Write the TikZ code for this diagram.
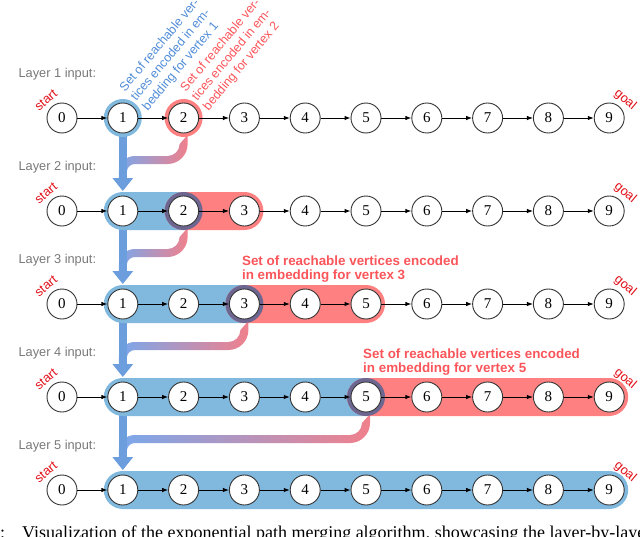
\documentclass[tikz,border=0pt]{standalone}
\usepackage{fontspec}
\setmainfont{Liberation Serif}
\setsansfont{Liberation Sans}
\usetikzlibrary{arrows.meta}
\usetikzlibrary{calc}
\usetikzlibrary{backgrounds}
\definecolor{pillblue}{RGB}{128,184,222}
\definecolor{pillred}{RGB}{255,128,128}
\definecolor{ringdark}{RGB}{108,102,145}
\definecolor{shaftblue}{RGB}{108,158,222}
\definecolor{mergeblue}{RGB}{122,168,236}
\definecolor{mergered}{RGB}{240,128,140}
\definecolor{annoblue}{RGB}{80,140,215}
\definecolor{annored}{RGB}{250,85,90}
\definecolor{endred}{RGB}{225,15,25}
\definecolor{labelgray}{RGB}{120,120,120}
\def\xsep{60.8pt}
\def\ysep{93pt}
\newcommand\reachpill[3]{\fill[#1,rounded corners=19pt] ($(#2)+(-19pt,-19pt)$) rectangle ($(#3)+(19pt,19pt)$);}
\newcommand\mergecurve[2]{%
  \shade[merge] let \p1=(#1), \p2=(#2) in
    (\x1+4pt,\y1-17pt) -- (\x1+4pt,\y1-26pt) arc[start angle=0,end angle=-90,radius=20pt]
    -- (\x2+12pt,\y1-46pt) arc[start angle=90,end angle=180,radius=8pt]
    -- (\x2+4pt,\y2+30pt) -- (\x2-4pt,\y2+30pt) -- (\x2-4pt,\y1-54pt)
    arc[start angle=180,end angle=90,radius=16pt]
    -- (\x1-16pt,\y1-38pt) arc[start angle=-90,end angle=0,radius=12pt] -- cycle;}

\begin{document}
\begin{tikzpicture}[
    vertex/.style={
      circle,draw=black!80,line width=0.9pt,fill=white,
      minimum size=30pt,inner sep=0pt,
      font=\fontsize{15}{18}\selectfont
    },
    edge/.style={
      -{Latex[length=6pt,width=4.5pt]},line width=0.9pt
    },
    layerlabel/.style={
      anchor=base west,text=labelgray,
      font=\sffamily\fontsize{12.8}{15}\selectfont
    },
    endlabel/.style={
      text=endred,inner sep=0pt,
      font=\sffamily\fontsize{12.8}{15}\selectfont
    },
    slanted/.style={
      rotate=50,anchor=south west,align=left,inner sep=0pt,
      font=\sffamily\fontsize{12.5}{14.8}\selectfont
    },
    vertexnote/.style={
      anchor=south west,align=left,inner sep=0pt,text=annored,
      font=\sffamily\bfseries\fontsize{13.4}{13.8}\selectfont
    },
    caption/.style={
      anchor=base west,inner sep=0pt,
      font=\fontsize{18}{21}\selectfont
    },
    shaft/.style={
      draw=shaftblue,line width=8pt,-{Triangle[width=20pt,length=13pt]}
    },
    merge/.style={
      left color=mergeblue,right color=mergered
    }
  ]
    \useasboundingbox (-62pt,118pt) rectangle (578pt,-418pt);
    \clip (-62pt,118pt) rectangle (578pt,-418pt);

    % layers
    \foreach \r in {1,...,5} {
      \foreach \i in {0,...,9}
        \node[vertex] (v\r-\i) at ({\i*\xsep},{(1-\r)*\ysep}) {\i};
      \foreach \i [count=\j from 1] in {0,...,8}
        \draw[edge] (v\r-\i) -- (v\r-\j);
      \node[layerlabel] (layer\r) at ($(v\r-0)+(-47pt,41pt)$) {Layer \r\ input:};
      \node[endlabel,rotate=40]  (start\r) at ($(v\r-0)+(-16pt,18pt)$) {start};
      \node[endlabel,rotate=-40] (goal\r)  at ($(v\r-9)+(16pt,18pt)$)  {goal};
    }

    % notes
    \node[slanted,text=annoblue] (note1) at ($(v1-1)+(27pt,5pt)$) {Set of reachable ver-\\tices encoded in em-\\bedding for vertex 1};
    \node[slanted,text=annored]  (note2) at ($(v1-2)+(27pt,5pt)$) {Set of reachable ver-\\tices encoded in em-\\bedding for vertex 2};
    \node[vertexnote] (note3) at ($(v3-3)+(-2.5pt,21.6pt)$) {Set of reachable vertices encoded\\in embedding for vertex 3};
    \node[vertexnote] (note5) at ($(v4-5)+(-3pt,21.8pt)$)   {Set of reachable vertices encoded\\in embedding for vertex 5};

    \node[caption] (caption) at ($(v5-0)+(-122.5pt,-48pt)$) {Figure 4:\hskip 17pt Visualization of the exponential path merging algorithm, showcasing the layer-by-layer};

    \begin{pgfonlayer}{background}
      % merging
      \mergecurve{v1-2}{v2-1}
      \mergecurve{v2-2}{v3-1}
      \mergecurve{v3-3}{v4-1}
      \mergecurve{v4-5}{v5-1}
      \foreach \r [count=\s from 2] in {1,...,4}
        \draw[shaft] ($(v\r-1)+(0,-17pt)$) -- ($(v\s-1)+(0,20pt)$);

      % reachable sets
      \fill[pillblue] (v1-1) circle (19pt);
      \fill[pillred]  (v1-2) circle (19pt);
      \reachpill{pillblue}{v2-1}{v2-2}
      \reachpill{pillred}{v2-2}{v2-3}
      \reachpill{pillblue}{v3-1}{v3-3}
      \reachpill{pillred}{v3-3}{v3-5}
      \reachpill{pillblue}{v4-1}{v4-5}
      \reachpill{pillred}{v4-5}{v4-9}
      \reachpill{pillblue}{v5-1}{v5-9}
      \foreach \v in {v2-2,v3-3,v4-5}
        \fill[ringdark] (\v) circle (19pt);
    \end{pgfonlayer}
  \end{tikzpicture}
\end{document}
